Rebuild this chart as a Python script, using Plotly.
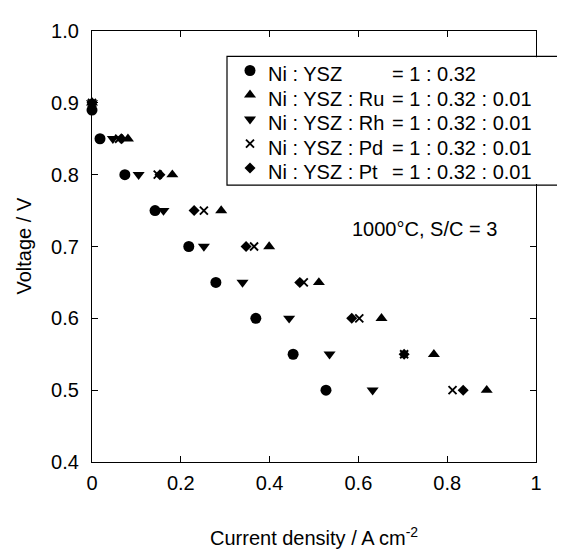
import plotly.graph_objects as go

# ---- data ----
voltage = [0.9, 0.85, 0.8, 0.75, 0.7, 0.65, 0.6, 0.55, 0.5]
ni_ysz_v = [0.89, 0.85, 0.8, 0.75, 0.7, 0.65, 0.6, 0.55, 0.5]
ni_ysz_i = [0.0, 0.018, 0.074, 0.142, 0.218, 0.279, 0.369, 0.453, 0.527]
ru_i = [0.0, 0.081, 0.181, 0.291, 0.399, 0.511, 0.652, 0.770, 0.889]
rh_i = [0.0, 0.047, 0.105, 0.161, 0.252, 0.339, 0.444, 0.535, 0.632]
pd_i = [0.0, 0.061, 0.148, 0.252, 0.365, 0.477, 0.602, 0.703, 0.812]
pt_i = [0.0, 0.066, 0.153, 0.230, 0.347, 0.468, 0.585, 0.703, 0.836]

legend_left = ["Ni : YSZ", "Ni : YSZ : Ru", "Ni : YSZ : Rh", "Ni : YSZ : Pd", "Ni : YSZ : Pt"]
legend_right = ["= 1 : 0.32", "= 1 : 0.32 : 0.01", "= 1 : 0.32 : 0.01",
                "= 1 : 0.32 : 0.01", "= 1 : 0.32 : 0.01"]
x_ticks = [0, 0.2, 0.4, 0.6, 0.8, 1]
x_tick_text = ["0", "0.2", "0.4", "0.6", "0.8", "1"]
y_ticks = [0.4, 0.5, 0.6, 0.7, 0.8, 0.9, 1.0]

FONT = "Liberation Sans, Arial, Helvetica, sans-serif"
FS = 20

series = [
    (ni_ysz_i, ni_ysz_v, "circle", 11, 0),
    (ru_i, voltage, "triangle-up", 10.5, 0),
    (rh_i, voltage, "triangle-down", 10.5, 0),
    (pd_i, voltage, "x-thin", 8, 1.9),
    (pt_i, voltage, "diamond", 8.5, 0),
]

fig = go.Figure()
for xs, ys, sym, sz, lw in series:
    fig.add_trace(go.Scatter(
        x=xs, y=ys, mode="markers", showlegend=False, cliponaxis=False,
        marker=dict(symbol=sym, size=sz, color="black",
                    line=dict(color="black", width=lw)),
    ))

# page geometry (the html body has an 8px margin)
OFF = 8
PL, PR, PT, PB = 92, 536, 20, 462          # plot frame in page pixels
W, H = 565 - OFF, 549 - OFF
L, T = PL - OFF, PT - OFF
R, B = W - (PR - OFF), H - (PB - OFF)
pw, ph = PR - PL, PB - PT

def px_x(p):
    return (p - PL) / pw

def px_y(p):
    return (PB - p) / ph

# ---- hand-built legend ----
# white patch hiding the right frame where the opaque legend box sits
fig.add_shape(type="rect", xref="paper", yref="paper",
              x0=px_x(527), x1=px_x(548), y0=px_y(177), y1=px_y(47),
              line=dict(width=0), fillcolor="white", layer="above")
fig.add_shape(type="rect", xref="paper", yref="paper",
              x0=px_x(227), x1=px_x(563), y0=px_y(178), y1=px_y(46),
              line=dict(color="black", width=1.2), fillcolor="rgba(0,0,0,0)", layer="above")

row0, pitch = 64.5, 25
for i, (xs, ys, sym, sz, lw) in enumerate(series):
    yrow = row0 + i * pitch
    fig.add_trace(go.Scatter(
        x=[px_x(250)], y=[px_y(yrow - 4)], xaxis="x2", yaxis="y2",
        mode="markers", showlegend=False, cliponaxis=False,
        marker=dict(symbol=sym, size=sz, color="black",
                    line=dict(color="black", width=lw)),
    ))
    fig.add_annotation(x=px_x(266), y=px_y(yrow), xref="paper", yref="paper",
                       text=legend_left[i], showarrow=False, xanchor="left",
                       yanchor="middle", font=dict(family=FONT, size=FS, color="black"))
    fig.add_annotation(x=px_x(390), y=px_y(yrow), xref="paper", yref="paper",
                       text=legend_right[i], showarrow=False, xanchor="left",
                       yanchor="middle", font=dict(family=FONT, size=FS, color="black"))

fig.add_annotation(x=px_x(424.5), y=px_y(222.7), xref="paper", yref="paper",
                   text="1000°C, S/C = 3", showarrow=False, xanchor="center",
                   yanchor="middle", font=dict(family=FONT, size=FS, color="black"))

fig.add_annotation(x=px_x(23), y=0.5, xref="paper", yref="paper",
                   text="Voltage / V", textangle=-90, showarrow=False,
                   xanchor="center", yanchor="middle",
                   font=dict(family=FONT, size=FS, color="black"))
fig.add_annotation(x=px_x(314), y=px_y(538), xref="paper", yref="paper",
                   text="Current density / A cm<sup>-2</sup>", showarrow=False,
                   xanchor="center", yanchor="middle",
                   font=dict(family=FONT, size=FS, color="black"))

axis_common = dict(showgrid=False, zeroline=False, showline=True, linecolor="black",
                   linewidth=1.3, mirror="ticks", ticks="inside", ticklen=6,
                   tickwidth=1.2, tickcolor="black",
                   tickfont=dict(family=FONT, size=FS, color="black"))

fig.update_layout(
    width=W, height=H,
    margin=dict(l=L, r=R, t=T, b=B),
    paper_bgcolor="white", plot_bgcolor="white",
    xaxis=dict(range=[0, 1], tickvals=x_ticks, ticktext=x_tick_text,
               ticklabelstandoff=3, **axis_common),
    yaxis=dict(range=[0.4, 1.0], tickvals=y_ticks, tickformat=".1f",
               ticklabelstandoff=8, **axis_common),
    xaxis2=dict(range=[0, 1], overlaying="x", visible=False, fixedrange=True),
    yaxis2=dict(range=[0, 1], overlaying="y", visible=False, fixedrange=True),
    showlegend=False,
)

fig.write_html("out.html")
